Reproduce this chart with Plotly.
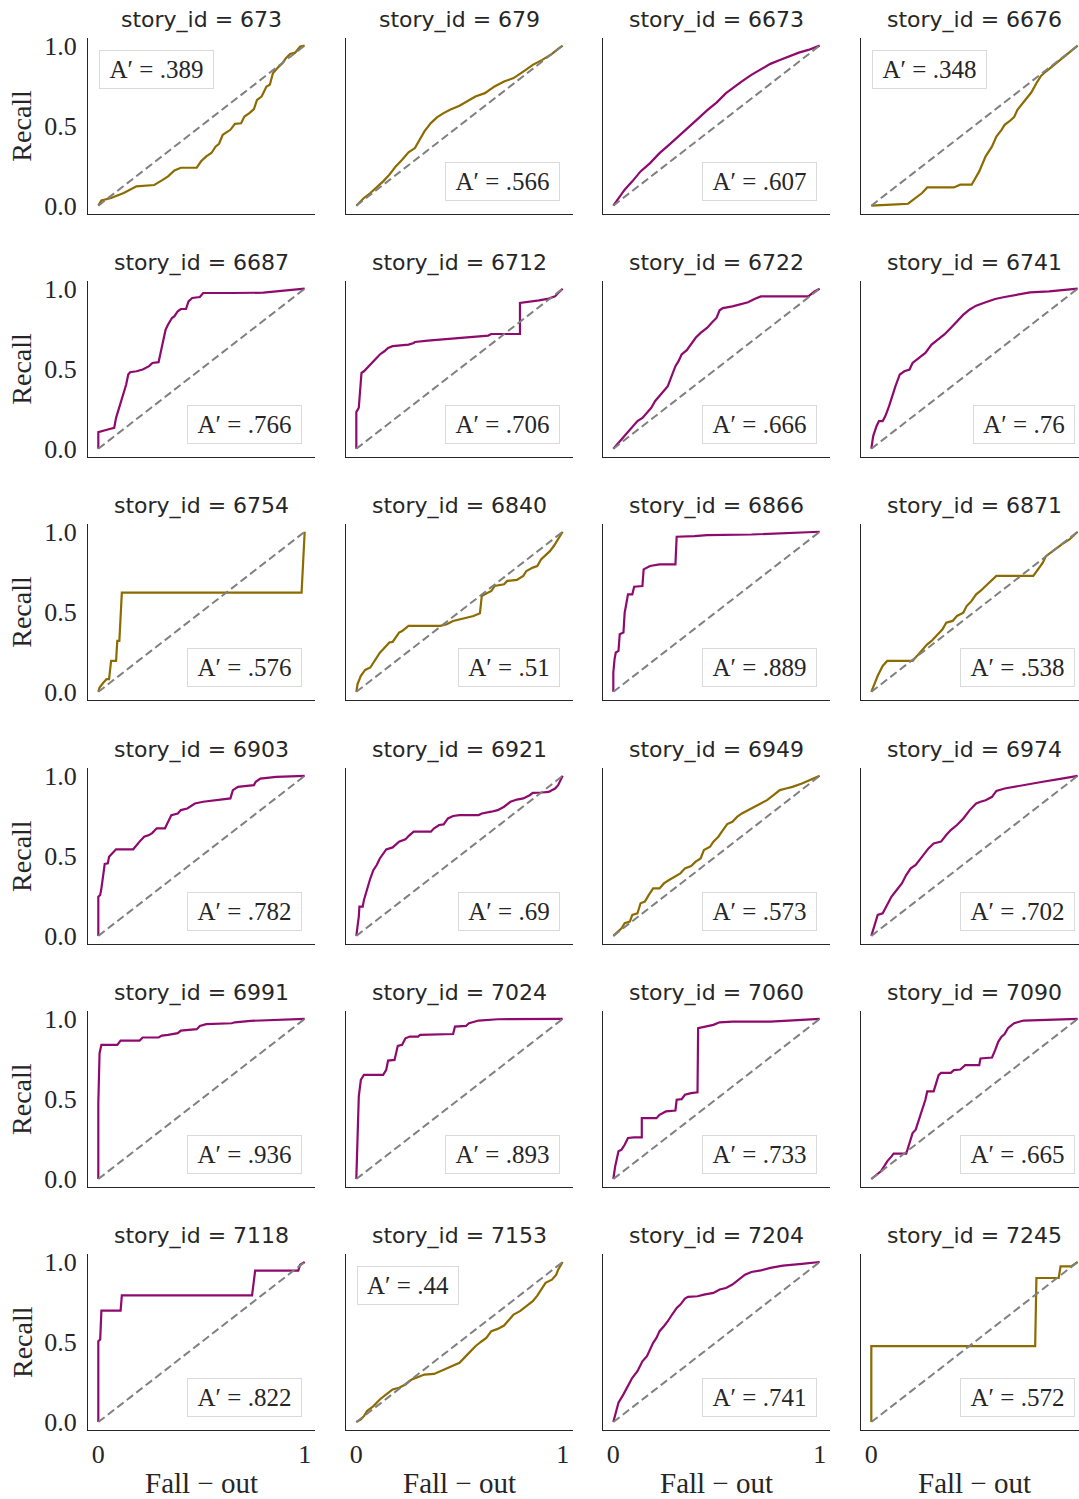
import plotly.graph_objects as go

# ---------------- data ----------------
story_ids = [673, 679, 6673, 6676,
             6687, 6712, 6722, 6741,
             6754, 6840, 6866, 6871,
             6903, 6921, 6949, 6974,
             6991, 7024, 7060, 7090,
             7118, 7153, 7204, 7245]
a_prime = [0.389, 0.566, 0.607, 0.348,
           0.766, 0.706, 0.666, 0.76,
           0.576, 0.51, 0.889, 0.538,
           0.782, 0.69, 0.573, 0.702,
           0.936, 0.893, 0.733, 0.665,
           0.822, 0.44, 0.741, 0.572]
group = ["low", "low", "high", "low",
         "high", "high", "high", "high",
         "low", "low", "high", "low",
         "high", "high", "low", "high",
         "high", "high", "high", "high",
         "high", "low", "high", "low"]
box_corner = ["ul", "lr", "lr", "ul",
              "lr", "lr", "lr", "lr",
              "lr", "lr", "lr", "lr",
              "lr", "lr", "lr", "lr",
              "lr", "lr", "lr", "lr",
              "lr", "ul", "lr", "lr"]
chance_x = [0, 1]
chance_y = [0, 1]
y_tick_vals = [0, 0.5, 1]
y_tick_text = ["0.0", "0.5", "1.0"]
x_tick_vals = [0, 1]
x_tick_text = ["0", "1"]

fpr_673 = [0, 0.015, 0.062, 0.123, 0.185, 0.271, 0.308, 0.338, 0.369, 0.4, 0.477, 0.498, 0.523, 0.548, 0.569, 0.585, 0.603, 0.622, 0.640, 0.662, 0.692, 0.708, 0.732, 0.754, 0.769, 0.791, 0.815, 0.831, 0.846, 0.871, 0.892, 0.908, 0.929, 0.954, 0.978, 1]
tpr_673 = [0, 0.033, 0.048, 0.079, 0.121, 0.129, 0.158, 0.183, 0.220, 0.237, 0.237, 0.277, 0.308, 0.329, 0.370, 0.387, 0.443, 0.457, 0.474, 0.511, 0.515, 0.557, 0.578, 0.603, 0.661, 0.682, 0.744, 0.755, 0.827, 0.864, 0.889, 0.92, 0.948, 0.956, 0.994, 1]

fpr_679 = [0, 0.037, 0.068, 0.105, 0.130, 0.160, 0.191, 0.222, 0.253, 0.284, 0.309, 0.330, 0.361, 0.392, 0.423, 0.454, 0.500, 0.546, 0.577, 0.623, 0.670, 0.716, 0.762, 0.809, 0.855, 0.901, 0.948, 0.978, 1]
tpr_679 = [0, 0.048, 0.079, 0.121, 0.152, 0.193, 0.245, 0.287, 0.333, 0.360, 0.412, 0.464, 0.516, 0.553, 0.578, 0.599, 0.624, 0.657, 0.682, 0.703, 0.745, 0.776, 0.797, 0.838, 0.880, 0.911, 0.948, 0.979, 1]

fpr_6673 = [0, 0.025, 0.055, 0.092, 0.132, 0.178, 0.224, 0.270, 0.316, 0.362, 0.408, 0.454, 0.500, 0.546, 0.577, 0.623, 0.669, 0.715, 0.761, 0.807, 0.853, 0.899, 0.945, 1]
tpr_6673 = [0, 0.048, 0.100, 0.152, 0.214, 0.266, 0.328, 0.380, 0.432, 0.484, 0.541, 0.595, 0.644, 0.703, 0.734, 0.776, 0.817, 0.852, 0.886, 0.910, 0.935, 0.956, 0.973, 1]

fpr_6676 = [0, 0.062, 0.123, 0.178, 0.215, 0.246, 0.271, 0.400, 0.431, 0.486, 0.523, 0.554, 0.585, 0.606, 0.631, 0.646, 0.668, 0.692, 0.708, 0.732, 0.754, 0.775, 0.8, 0.822, 0.846, 0.877, 0.908, 0.938, 0.969, 1]
tpr_6676 = [0, 0.002, 0.008, 0.012, 0.048, 0.079, 0.114, 0.114, 0.131, 0.131, 0.214, 0.308, 0.370, 0.432, 0.474, 0.505, 0.526, 0.553, 0.599, 0.640, 0.672, 0.707, 0.765, 0.811, 0.838, 0.870, 0.902, 0.933, 0.965, 1]

fpr_6687 = [0, 0, 0.046, 0.077, 0.086, 0.098, 0.111, 0.123, 0.135, 0.145, 0.154, 0.185, 0.215, 0.246, 0.262, 0.292, 0.302, 0.314, 0.326, 0.338, 0.357, 0.369, 0.385, 0.4, 0.425, 0.437, 0.455, 0.492, 0.508, 0.646, 0.8, 0.862, 0.923, 1]
tpr_6687 = [0, 0.104, 0.120, 0.131, 0.193, 0.245, 0.297, 0.349, 0.401, 0.464, 0.478, 0.484, 0.495, 0.516, 0.536, 0.541, 0.599, 0.682, 0.744, 0.776, 0.817, 0.828, 0.859, 0.873, 0.873, 0.921, 0.942, 0.948, 0.973, 0.973, 0.975, 0.983, 0.990, 1]

fpr_6712 = [0, 0, 0.012, 0.025, 0.037, 0.052, 0.068, 0.083, 0.099, 0.114, 0.136, 0.154, 0.176, 0.253, 0.278, 0.284, 0.346, 0.438, 0.531, 0.593, 0.639, 0.654, 0.793, 0.793, 0.840, 0.886, 0.932, 0.963, 0.978, 1]
tpr_6712 = [0, 0.229, 0.256, 0.474, 0.484, 0.505, 0.526, 0.547, 0.568, 0.589, 0.609, 0.630, 0.641, 0.651, 0.661, 0.667, 0.676, 0.686, 0.697, 0.703, 0.707, 0.717, 0.717, 0.911, 0.917, 0.927, 0.938, 0.952, 0.973, 1]

fpr_6722 = [0, 0.025, 0.049, 0.071, 0.092, 0.117, 0.141, 0.163, 0.184, 0.202, 0.224, 0.245, 0.264, 0.276, 0.288, 0.301, 0.316, 0.331, 0.356, 0.377, 0.399, 0.423, 0.454, 0.479, 0.500, 0.515, 0.531, 0.577, 0.607, 0.653, 0.684, 0.715, 0.945, 0.960, 0.975, 1]
tpr_6722 = [0, 0.037, 0.069, 0.100, 0.131, 0.173, 0.193, 0.225, 0.256, 0.297, 0.328, 0.360, 0.391, 0.432, 0.474, 0.516, 0.547, 0.589, 0.616, 0.651, 0.693, 0.724, 0.755, 0.790, 0.817, 0.865, 0.879, 0.890, 0.900, 0.915, 0.936, 0.952, 0.952, 0.969, 0.983, 1]

fpr_6741 = [0, 0.009, 0.025, 0.037, 0.055, 0.068, 0.086, 0.098, 0.117, 0.138, 0.160, 0.185, 0.200, 0.231, 0.262, 0.292, 0.323, 0.354, 0.385, 0.415, 0.446, 0.477, 0.508, 0.554, 0.600, 0.646, 0.708, 0.769, 0.862, 0.938, 1]
tpr_6741 = [0, 0.079, 0.141, 0.173, 0.173, 0.204, 0.266, 0.318, 0.391, 0.464, 0.484, 0.495, 0.536, 0.568, 0.599, 0.651, 0.682, 0.714, 0.755, 0.797, 0.838, 0.870, 0.894, 0.915, 0.936, 0.948, 0.963, 0.977, 0.983, 0.994, 1]

fpr_6754 = [0, 0.006, 0.025, 0.040, 0.052, 0.062, 0.086, 0.092, 0.102, 0.114, 0.985, 0.994, 1, 1]
tpr_6754 = [0, 0.027, 0.058, 0.079, 0.079, 0.193, 0.193, 0.318, 0.318, 0.620, 0.620, 0.828, 0.973, 1]

fpr_6840 = [0, 0.006, 0.022, 0.043, 0.068, 0.083, 0.099, 0.114, 0.130, 0.145, 0.160, 0.176, 0.191, 0.207, 0.222, 0.253, 0.407, 0.438, 0.469, 0.500, 0.531, 0.568, 0.599, 0.608, 0.623, 0.654, 0.670, 0.716, 0.731, 0.778, 0.809, 0.824, 0.855, 0.877, 0.895, 0.917, 0.938, 0.957, 0.978, 1]
tpr_6840 = [0, 0.048, 0.100, 0.137, 0.152, 0.183, 0.214, 0.245, 0.266, 0.287, 0.308, 0.312, 0.339, 0.370, 0.380, 0.412, 0.412, 0.422, 0.443, 0.453, 0.464, 0.474, 0.491, 0.599, 0.609, 0.630, 0.661, 0.672, 0.693, 0.699, 0.724, 0.755, 0.776, 0.786, 0.827, 0.852, 0.879, 0.911, 0.952, 1]

fpr_6866 = [0, 0, 0.006, 0.012, 0.025, 0.031, 0.049, 0.055, 0.061, 0.071, 0.092, 0.101, 0.141, 0.147, 0.178, 0.224, 0.301, 0.307, 0.393, 0.454, 0.669, 0.822, 1]
tpr_6866 = [0, 0.121, 0.204, 0.246, 0.256, 0.360, 0.370, 0.495, 0.536, 0.609, 0.609, 0.657, 0.661, 0.765, 0.786, 0.796, 0.796, 0.969, 0.973, 0.979, 0.983, 0.990, 1]

fpr_6871 = [0, 0.015, 0.031, 0.055, 0.077, 0.2, 0.222, 0.246, 0.271, 0.292, 0.323, 0.345, 0.363, 0.394, 0.415, 0.446, 0.462, 0.486, 0.508, 0.529, 0.554, 0.578, 0.606, 0.785, 0.806, 0.831, 0.846, 0.877, 0.923, 0.960, 1]
tpr_6871 = [0, 0.048, 0.100, 0.162, 0.193, 0.193, 0.225, 0.256, 0.297, 0.318, 0.360, 0.391, 0.432, 0.443, 0.474, 0.495, 0.536, 0.568, 0.609, 0.630, 0.661, 0.693, 0.724, 0.724, 0.765, 0.807, 0.848, 0.879, 0.921, 0.952, 1]

fpr_6903 = [0, 0, 0.009, 0.015, 0.031, 0.046, 0.052, 0.068, 0.086, 0.169, 0.185, 0.2, 0.222, 0.246, 0.262, 0.283, 0.323, 0.338, 0.354, 0.385, 0.4, 0.431, 0.446, 0.468, 0.508, 0.554, 0.6, 0.640, 0.652, 0.677, 0.708, 0.754, 0.763, 0.785, 0.862, 0.923, 1]
tpr_6903 = [0, 0.245, 0.256, 0.297, 0.449, 0.453, 0.495, 0.516, 0.541, 0.541, 0.568, 0.589, 0.620, 0.630, 0.644, 0.672, 0.672, 0.713, 0.755, 0.765, 0.786, 0.796, 0.807, 0.827, 0.838, 0.844, 0.852, 0.859, 0.911, 0.931, 0.936, 0.942, 0.963, 0.983, 0.994, 0.998, 1]

fpr_6921 = [0, 0.006, 0.012, 0.015, 0.031, 0.037, 0.052, 0.068, 0.083, 0.099, 0.114, 0.130, 0.145, 0.176, 0.191, 0.207, 0.238, 0.253, 0.278, 0.361, 0.377, 0.401, 0.423, 0.444, 0.469, 0.500, 0.593, 0.608, 0.654, 0.685, 0.716, 0.747, 0.778, 0.809, 0.840, 0.855, 0.901, 0.932, 0.963, 0.978, 1]
tpr_6921 = [0, 0.048, 0.121, 0.183, 0.183, 0.225, 0.297, 0.360, 0.412, 0.443, 0.484, 0.516, 0.541, 0.553, 0.568, 0.589, 0.603, 0.624, 0.651, 0.651, 0.672, 0.693, 0.697, 0.734, 0.749, 0.755, 0.755, 0.765, 0.776, 0.786, 0.807, 0.838, 0.852, 0.859, 0.879, 0.894, 0.896, 0.900, 0.921, 0.942, 1]

fpr_6949 = [0, 0.025, 0.040, 0.055, 0.080, 0.092, 0.117, 0.132, 0.153, 0.172, 0.193, 0.224, 0.245, 0.270, 0.301, 0.325, 0.347, 0.377, 0.399, 0.423, 0.439, 0.469, 0.485, 0.509, 0.531, 0.552, 0.577, 0.601, 0.623, 0.653, 0.684, 0.715, 0.745, 0.776, 0.807, 0.837, 0.868, 0.914, 0.945, 0.975, 1]
tpr_6949 = [0, 0.033, 0.048, 0.079, 0.089, 0.131, 0.141, 0.204, 0.214, 0.256, 0.297, 0.297, 0.328, 0.349, 0.370, 0.391, 0.422, 0.437, 0.464, 0.484, 0.536, 0.557, 0.589, 0.620, 0.661, 0.699, 0.713, 0.745, 0.765, 0.786, 0.807, 0.828, 0.848, 0.879, 0.911, 0.921, 0.931, 0.952, 0.969, 0.983, 1]

fpr_6974 = [0, 0.015, 0.031, 0.055, 0.077, 0.098, 0.123, 0.148, 0.169, 0.191, 0.215, 0.240, 0.262, 0.277, 0.302, 0.338, 0.363, 0.385, 0.415, 0.446, 0.477, 0.508, 0.529, 0.554, 0.585, 0.606, 0.646, 0.708, 0.769, 0.831, 0.923, 1]
tpr_6974 = [0, 0.069, 0.131, 0.141, 0.193, 0.246, 0.287, 0.328, 0.380, 0.422, 0.443, 0.484, 0.516, 0.547, 0.578, 0.589, 0.630, 0.661, 0.693, 0.734, 0.786, 0.828, 0.838, 0.848, 0.869, 0.906, 0.921, 0.936, 0.952, 0.963, 0.983, 1]

fpr_6991 = [0, 0, 0.006, 0.015, 0.092, 0.108, 0.2, 0.215, 0.292, 0.308, 0.338, 0.385, 0.4, 0.431, 0.477, 0.492, 0.523, 0.646, 0.662, 0.738, 0.862, 1]
tpr_6991 = [0, 0.474, 0.786, 0.838, 0.838, 0.865, 0.865, 0.884, 0.884, 0.896, 0.900, 0.911, 0.927, 0.931, 0.936, 0.956, 0.967, 0.973, 0.979, 0.988, 0.994, 1]

fpr_7024 = [0, 0.006, 0.012, 0.022, 0.037, 0.130, 0.145, 0.154, 0.185, 0.191, 0.201, 0.222, 0.238, 0.259, 0.299, 0.309, 0.469, 0.478, 0.531, 0.546, 0.593, 0.685, 1]
tpr_7024 = [0, 0.266, 0.516, 0.620, 0.651, 0.651, 0.682, 0.740, 0.744, 0.776, 0.832, 0.838, 0.879, 0.890, 0.890, 0.900, 0.906, 0.952, 0.956, 0.973, 0.990, 0.998, 1]

fpr_7060 = [0, 0.009, 0.025, 0.040, 0.055, 0.071, 0.101, 0.138, 0.138, 0.209, 0.224, 0.255, 0.301, 0.307, 0.331, 0.347, 0.377, 0.408, 0.411, 0.454, 0.485, 0.515, 0.577, 0.761, 0.883, 1]
tpr_7060 = [0, 0.079, 0.173, 0.183, 0.214, 0.256, 0.260, 0.260, 0.380, 0.380, 0.401, 0.422, 0.428, 0.495, 0.499, 0.526, 0.536, 0.541, 0.942, 0.952, 0.963, 0.979, 0.983, 0.983, 0.990, 1]

fpr_7090 = [0, 0.015, 0.031, 0.046, 0.062, 0.077, 0.098, 0.108, 0.169, 0.185, 0.2, 0.215, 0.231, 0.246, 0.262, 0.271, 0.302, 0.314, 0.326, 0.338, 0.385, 0.4, 0.431, 0.455, 0.523, 0.529, 0.585, 0.600, 0.615, 0.631, 0.646, 0.662, 0.692, 0.738, 0.862, 1]
tpr_7090 = [0, 0.017, 0.037, 0.048, 0.079, 0.110, 0.141, 0.158, 0.158, 0.225, 0.287, 0.308, 0.370, 0.432, 0.495, 0.547, 0.547, 0.597, 0.649, 0.663, 0.663, 0.680, 0.684, 0.711, 0.711, 0.753, 0.759, 0.805, 0.857, 0.889, 0.906, 0.942, 0.973, 0.990, 0.994, 1]

fpr_7118 = [0, 0, 0.009, 0.015, 0.108, 0.114, 0.745, 0.754, 0.760, 0.969, 0.978, 1]
tpr_7118 = [0, 0.505, 0.516, 0.696, 0.696, 0.792, 0.792, 0.890, 0.946, 0.946, 0.983, 1]

fpr_7153 = [0, 0.022, 0.037, 0.052, 0.083, 0.114, 0.145, 0.176, 0.207, 0.238, 0.269, 0.299, 0.330, 0.377, 0.407, 0.438, 0.469, 0.500, 0.531, 0.546, 0.577, 0.608, 0.630, 0.654, 0.685, 0.716, 0.741, 0.762, 0.793, 0.824, 0.855, 0.877, 0.895, 0.917, 0.948, 0.969, 0.978, 1]
tpr_7153 = [0, 0.017, 0.037, 0.069, 0.100, 0.141, 0.173, 0.204, 0.214, 0.235, 0.266, 0.281, 0.297, 0.301, 0.318, 0.333, 0.349, 0.370, 0.412, 0.432, 0.474, 0.505, 0.526, 0.568, 0.582, 0.603, 0.641, 0.672, 0.693, 0.724, 0.755, 0.790, 0.828, 0.870, 0.890, 0.921, 0.952, 1]

fpr_7204 = [0, 0.009, 0.025, 0.049, 0.071, 0.092, 0.117, 0.141, 0.163, 0.178, 0.193, 0.209, 0.224, 0.245, 0.264, 0.285, 0.307, 0.325, 0.347, 0.362, 0.408, 0.439, 0.485, 0.515, 0.546, 0.577, 0.607, 0.638, 0.669, 0.715, 0.761, 0.822, 0.914, 1]
tpr_7204 = [0, 0.048, 0.121, 0.173, 0.225, 0.277, 0.318, 0.380, 0.412, 0.453, 0.495, 0.526, 0.568, 0.599, 0.630, 0.672, 0.713, 0.734, 0.771, 0.782, 0.786, 0.796, 0.807, 0.828, 0.838, 0.859, 0.890, 0.921, 0.938, 0.948, 0.963, 0.977, 0.988, 1]

fpr_7245 = [0, 0, 0.794, 0.800, 0.908, 0.917, 0.969, 0.985, 1]
tpr_7245 = [0, 0.474, 0.474, 0.900, 0.900, 0.973, 0.973, 0.990, 1]

fpr_list = [fpr_673, fpr_679, fpr_6673, fpr_6676, fpr_6687, fpr_6712, fpr_6722, fpr_6741,
            fpr_6754, fpr_6840, fpr_6866, fpr_6871, fpr_6903, fpr_6921, fpr_6949, fpr_6974,
            fpr_6991, fpr_7024, fpr_7060, fpr_7090, fpr_7118, fpr_7153, fpr_7204, fpr_7245]
tpr_list = [tpr_673, tpr_679, tpr_6673, tpr_6676, tpr_6687, tpr_6712, tpr_6722, tpr_6741,
            tpr_6754, tpr_6840, tpr_6866, tpr_6871, tpr_6903, tpr_6921, tpr_6949, tpr_6974,
            tpr_6991, tpr_7024, tpr_7060, tpr_7090, tpr_7118, tpr_7153, tpr_7204, tpr_7245]

# ---------------- style / layout ----------------
W, H = 1079, 1499
group_color = {"low": "#8c6b00", "high": "#8e0a6d"}
TXT = "#262626"
SERIF = "Liberation Serif, DejaVu Serif, serif"
SANS = "DejaVu Sans, sans-serif"

col_left = [88, 346, 603, 861]
row_top = [38, 281, 524, 768, 1011, 1254]
ax_w, ax_h = 227, 176
ppu = ax_w / 1.1

# vertical calibration of the rendered page (target pixel -> figure pixel)
VS, VO = 0.991, 6.4


def py(px):
    """paper y-fraction for a target vertical pixel position"""
    return 1 - ((px - VO) / VS) / H


fig = go.Figure()
annotations = []

for i, sid in enumerate(story_ids):
    r, c = divmod(i, 4)
    k = i + 1
    xname = "x" if k == 1 else f"x{k}"
    yname = "y" if k == 1 else f"y{k}"
    left_px = col_left[c]
    right_px = min(left_px + ax_w, W)
    zero_px = left_px + 0.05 * ppu
    xr = [(left_px - zero_px) / ppu, (right_px - zero_px) / ppu]
    top_px = row_top[r]
    bot_px = top_px + ax_h

    fig.add_trace(go.Scatter(x=fpr_list[i], y=tpr_list[i], mode="lines",
                             line=dict(color=group_color[group[i]], width=2.2),
                             xaxis=xname, yaxis=yname, showlegend=False, hoverinfo="skip"))
    fig.add_trace(go.Scatter(x=chance_x, y=chance_y, mode="lines",
                             line=dict(color="#808080", width=2.0, dash="8px,4px"),
                             xaxis=xname, yaxis=yname, showlegend=False, hoverinfo="skip"))

    xa = dict(domain=[left_px / W, right_px / W], range=xr, anchor=yname,
              showline=True, linecolor=TXT, linewidth=1.3, showgrid=False, zeroline=False,
              ticks="outside", ticklen=1, tickcolor="rgba(0,0,0,0)",
              tickvals=x_tick_vals, ticktext=x_tick_text,
              showticklabels=(r == 5), tickfont=dict(family=SERIF, size=26, color=TXT))
    ya = dict(domain=[py(bot_px), py(top_px)], range=[-0.05, 1.05], anchor=xname,
              showline=True, linecolor=TXT, linewidth=1.3, showgrid=False, zeroline=False,
              ticks="outside", ticklen=5, tickcolor="rgba(0,0,0,0)",
              tickvals=y_tick_vals, ticktext=y_tick_text,
              showticklabels=(c == 0), tickfont=dict(family=SERIF, size=26, color=TXT))
    fig.layout["xaxis" if k == 1 else f"xaxis{k}"] = xa
    fig.layout["yaxis" if k == 1 else f"yaxis{k}"] = ya

    # panel title
    annotations.append(dict(text=f"story_id = {sid}", x=(left_px + ax_w / 2) / W,
                            y=py(top_px - 18), xref="paper", yref="paper",
                            xanchor="center", yanchor="middle", showarrow=False,
                            font=dict(family=SANS, size=22, color=TXT)))

    # A' box
    label = "A′ = " + f"{a_prime[i]:g}".lstrip("0")
    ndig = len(f"{a_prime[i]:g}".lstrip("0")) - 1
    bw = 107 if ndig == 3 else 94
    if box_corner[i] == "lr":
        bx, by, xanc, yanc = (left_px + ax_w - 13) / W, py(bot_px - 13), "right", "bottom"
    else:
        bx, by, xanc, yanc = (left_px + 11) / W, py(top_px + 12), "left", "top"
    annotations.append(dict(text=label, x=bx, y=by, xref="paper", yref="paper",
                            xanchor=xanc, yanchor=yanc, showarrow=False,
                            width=bw, height=31, align="center",
                            bgcolor="white", bordercolor="#dadada", borderwidth=1, borderpad=3,
                            font=dict(family=SERIF, size=25, color=TXT)))

    if c == 0:
        annotations.append(dict(text="Recall", x=22 / W, y=py(top_px + ax_h / 2),
                                xref="paper", yref="paper", xanchor="center", yanchor="middle",
                                textangle=-90, showarrow=False,
                                font=dict(family=SERIF, size=28, color=TXT)))
    if r == 5:
        annotations.append(dict(text="Fall − out", x=(zero_px + 0.5 * ppu) / W, y=py(1483),
                                xref="paper", yref="paper", xanchor="center", yanchor="middle",
                                showarrow=False, font=dict(family=SERIF, size=29, color=TXT)))

fig.update_layout(width=W, height=H, margin=dict(l=0, r=0, t=0, b=0),
                  paper_bgcolor="white", plot_bgcolor="white",
                  annotations=annotations, showlegend=False)

fig.write_html("out.html", config={"displayModeBar": False},
               post_script="document.body.style.margin='0';document.body.style.padding='0';"
                           "document.documentElement.style.overflow='hidden';")
